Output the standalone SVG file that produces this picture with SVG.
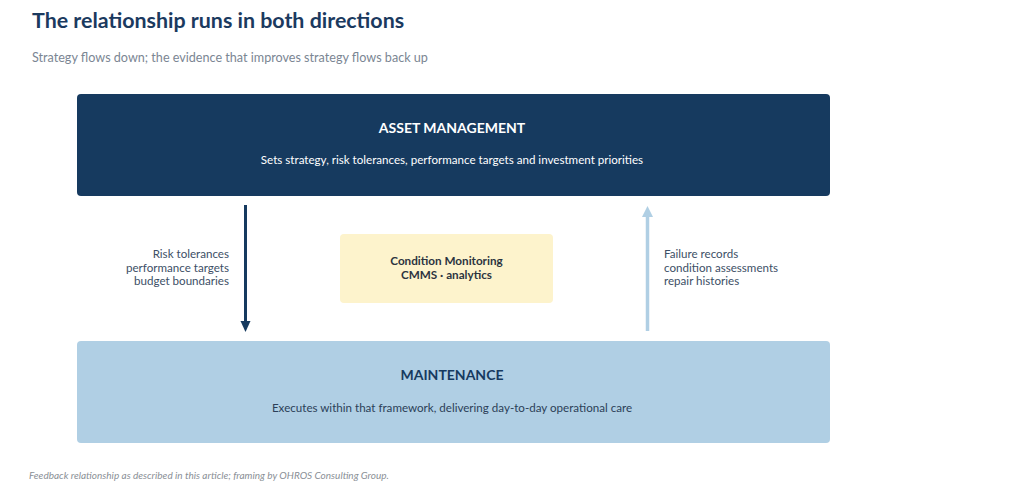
<svg xmlns="http://www.w3.org/2000/svg" width="1024" height="492" viewBox="0 0 1024 492">
<style>
text{font-family:Lato,"Open Sans","Liberation Sans",sans-serif}
.title{font-size:21.4px;font-weight:700;fill:#1b3a5f}
.sub{font-size:12.6px;fill:#7b8693}
.h{font-size:14px;font-weight:700;text-anchor:middle}
.d{font-size:11.6px;text-anchor:middle}
.lab{font-size:11.6px;fill:#3d4f66}
.cm{font-size:11.7px;font-weight:700;fill:#2c3440;text-anchor:middle}
.foot{font-size:10px;font-style:italic;fill:#8a8f96}
.dn{stroke:#163a5f;stroke-width:3;fill:none}
.up{stroke:#b0cfe4;stroke-width:3.5;fill:none}
</style>
<rect width="1024" height="492" fill="#ffffff"/>
<text class="title" x="32" y="28">The relationship runs in both directions</text>
<text class="sub" x="32" y="62">Strategy flows down; the evidence that improves strategy flows back up</text>
<g id="asset-management">
<rect x="77" y="94" width="753" height="102" rx="4" fill="#163a5f"/>
<text class="h" x="452" y="133" fill="#ffffff">ASSET MANAGEMENT</text>
<text class="d" x="452" y="164" fill="#ffffff">Sets strategy, risk tolerances, performance targets and investment priorities</text>
</g>
<g id="maintenance">
<rect x="77" y="341" width="753" height="102" rx="4" fill="#b0cfe4"/>
<text class="h" x="452" y="380" fill="#163a5f">MAINTENANCE</text>
<text class="d" x="452" y="412" fill="#2c3f58">Executes within that framework, delivering day-to-day operational care</text>
</g>
<g id="condition-monitoring">
<rect x="340" y="234" width="213" height="69" rx="4" fill="#fdf3cc"/>
<text class="cm" x="446.5" y="265">Condition Monitoring</text>
<text class="cm" x="446.5" y="279">CMMS · analytics</text>
</g>
<g id="connectors">
<line class="dn" x1="245.5" y1="205" x2="245.5" y2="323"/>
<path d="M240.5,321 L250.5,321 L245.5,332 Z" fill="#163a5f"/>
<line class="up" x1="647.5" y1="331" x2="647.5" y2="214"/>
<path d="M642,217 L653,217 L647.5,206 Z" fill="#b0cfe4"/>
<text class="lab" x="229" y="258" text-anchor="end">Risk tolerances</text>
<text class="lab" x="229" y="272" text-anchor="end">performance targets</text>
<text class="lab" x="229" y="285" text-anchor="end">budget boundaries</text>
<text class="lab" x="664" y="258">Failure records</text>
<text class="lab" x="664" y="272">condition assessments</text>
<text class="lab" x="664" y="285">repair histories</text>
</g>
<text class="foot" x="29" y="479">Feedback relationship as described in this article; framing by OHROS Consulting Group.</text>
</svg>
